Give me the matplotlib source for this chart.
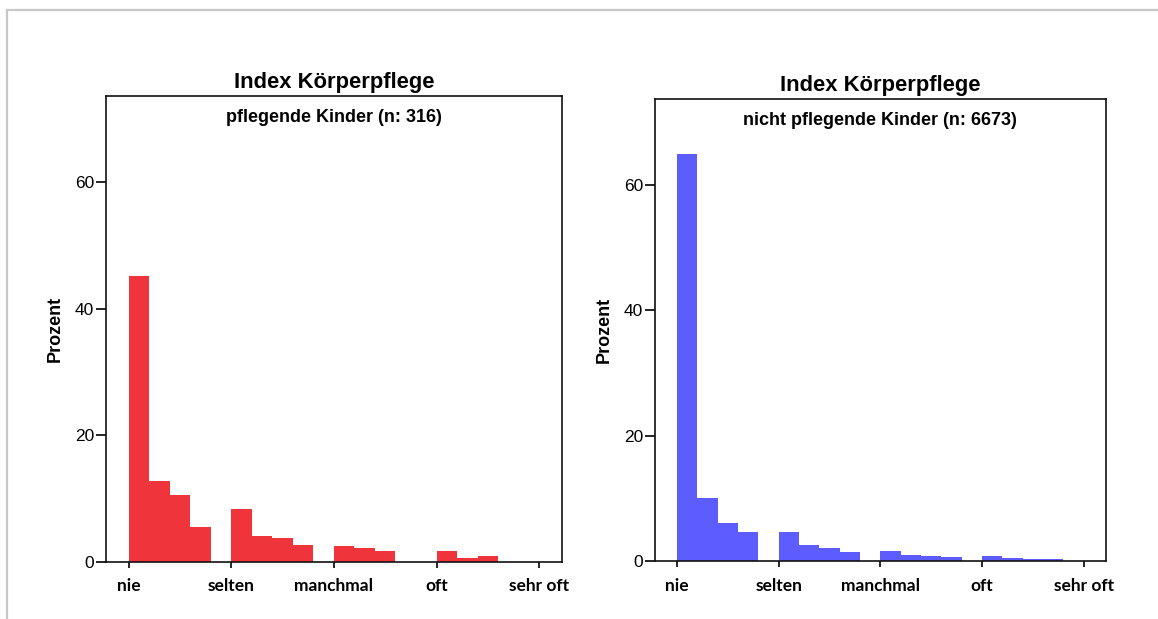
import matplotlib
matplotlib.use("Agg")
import matplotlib.pyplot as plt
from matplotlib.lines import Line2D

# Index values (1 = nie ... 5 = sehr oft), bins of width 0.2, left edges
bin_left = [1.0, 1.2, 1.4, 1.6, 2.0, 2.2, 2.4, 2.6, 3.0, 3.2, 3.4, 3.6, 4.0, 4.2, 4.4, 4.6]
bin_width = 0.2

# percent per bin
pct_pflegend = [45.1, 12.8, 10.6, 5.5, 8.4, 4.0, 3.7, 2.7, 2.4, 2.1, 1.75, 0.0, 1.75, 0.55, 0.85, 0.0]
pct_nicht = [64.9, 10.0, 6.0, 4.6, 4.6, 2.55, 2.0, 1.4, 1.55, 0.9, 0.75, 0.6, 0.75, 0.42, 0.28, 0.28]

tick_pos = [1, 2, 3, 4, 5]
tick_labels = ["nie", "selten", "manchmal", "oft", "sehr oft"]
y_ticks = [0, 20, 40, 60]

titles = ["Index Körperpflege", "Index Körperpflege"]
subtitles = ["pflegende Kinder (n: 316)", "nicht pflegende Kinder (n: 6673)"]
colors = ["#f0343b", "#5c5cff"]

fig = plt.figure(figsize=(11.58, 6.19), dpi=100)
fig.patch.set_facecolor("white")

# light grey frame of the output window (top and left edge)
fig.add_artist(Line2D([7 / 1158, 1], [1 - 10 / 619, 1 - 10 / 619], transform=fig.transFigure,
                      color="#c8c8c8", lw=1.6))
fig.add_artist(Line2D([7 / 1158, 7 / 1158], [0, 1 - 10 / 619], transform=fig.transFigure,
                      color="#c8c8c8", lw=1.6))

axes_rects = [[0.0915, 0.0926, 0.3936, 0.7524],
              [0.5654, 0.0937, 0.3897, 0.7459]]
series = [pct_pflegend, pct_nicht]

for i in range(2):
    ax = fig.add_axes(axes_rects[i])
    ax.bar(bin_left, series[i], width=bin_width, align="edge", color=colors[i], linewidth=0)
    ax.set_xlim(0.78, 5.22)
    ax.set_ylim(0, 73.6)
    ax.set_yticks(y_ticks)
    ax.set_yticklabels([str(v) for v in y_ticks], fontsize=12.5, family="Liberation Sans")
    ax.set_xticks(tick_pos)
    ax.set_xticklabels(tick_labels, fontsize=12.5, fontweight="bold", family="Lato")
    ax.tick_params(axis="y", direction="out", length=7.5, width=1.2, pad=1)
    ax.tick_params(axis="x", direction="out", length=4, width=1.2, pad=8)
    for s in ax.spines.values():
        s.set_linewidth(1.2)
        s.set_color("#111111")
    ax.set_ylabel("Prozent", fontsize=13, fontweight="bold", family="Liberation Sans", labelpad=8)
    ax.set_title(titles[i], fontsize=15.8, fontweight="bold", family="Liberation Sans", pad=6)
    ax.text(0.5, 0.973, subtitles[i], transform=ax.transAxes, ha="center", va="top",
            fontsize=13, fontweight="bold", family="Liberation Sans")

fig.savefig("out.png", dpi=100)
